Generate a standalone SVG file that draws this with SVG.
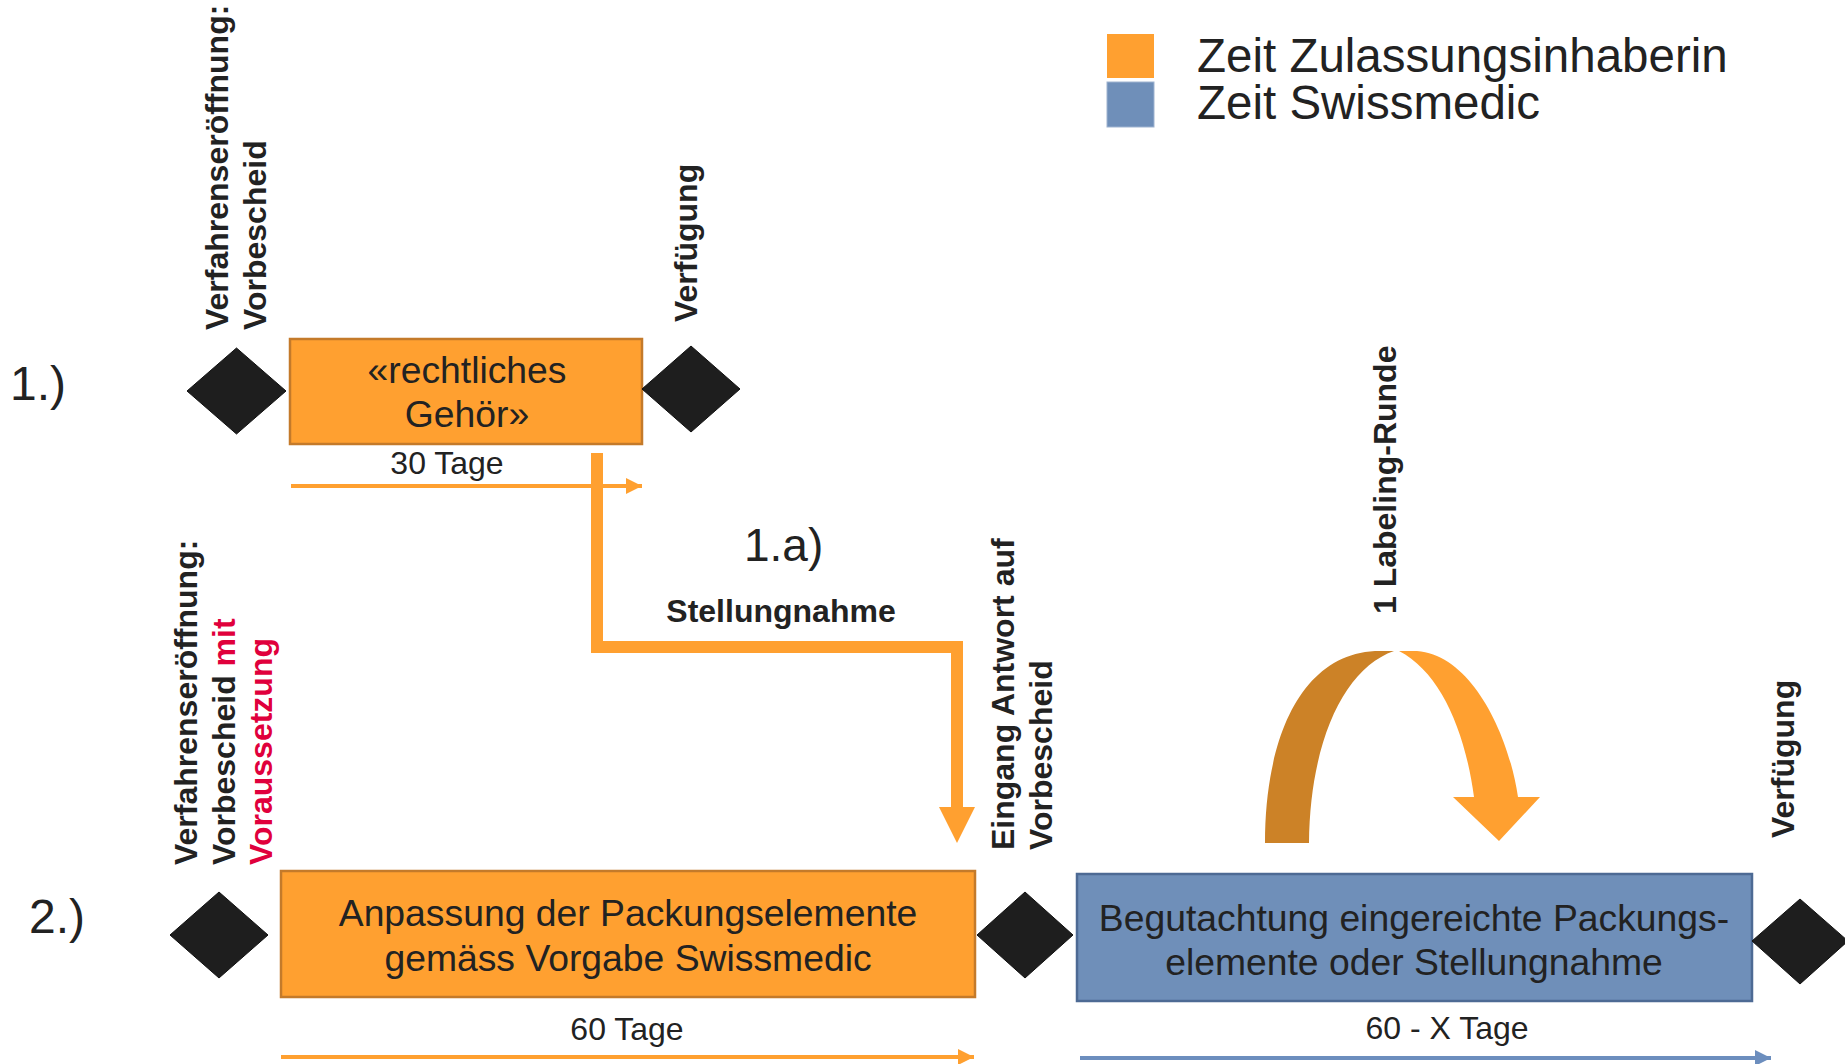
<svg xmlns="http://www.w3.org/2000/svg" width="1845" height="1064" viewBox="0 0 1845 1064">
<style>
text{font-family:"Liberation Sans",Arial,sans-serif;fill:#222}
.lbl{font-weight:bold;font-size:32px}
.box{font-size:37.3px;text-anchor:middle}
.num{font-size:48px}
.days{font-size:32px;text-anchor:middle}
.dia{fill:#1E1E1E;stroke:#111;stroke-width:1}
.red{fill:#E0003C}
</style>
<defs>
<marker id="ao" markerUnits="userSpaceOnUse" markerWidth="18" markerHeight="18" refX="16" refY="8" orient="auto"><path d="M0,0 L16,8 L0,16 Z" fill="#FFA030"/></marker>
<marker id="ab" markerUnits="userSpaceOnUse" markerWidth="18" markerHeight="18" refX="16" refY="8" orient="auto"><path d="M0,0 L16,8 L0,16 Z" fill="#6C8EBE"/></marker>
</defs>
<rect width="1845" height="1064" fill="#fff"/>

<g id="legend">
<rect x="1107" y="34" width="47" height="44" fill="#FFA030"/>
<rect x="1107" y="82" width="47" height="45" fill="#6F8FB9" stroke="#9FB3D0" stroke-width="1"/>
<text x="1197" y="72" font-size="47.5">Zeit Zulassungsinhaberin</text>
<text x="1197" y="119" font-size="47.5">Zeit Swissmedic</text>
</g>

<g id="row-labels">
<text class="num" x="10" y="400">1.)</text>
<text class="num" x="29" y="933">2.)</text>
<text x="744" y="561" font-size="46">1.a)</text>
</g>

<g id="connectors">
<line x1="291" y1="486" x2="642" y2="486" stroke="#FFA030" stroke-width="4" marker-end="url(#ao)"/>
<line x1="281" y1="1057" x2="974" y2="1057" stroke="#FFA030" stroke-width="4" marker-end="url(#ao)"/>
<line x1="1080" y1="1058" x2="1771" y2="1058" stroke="#6C8EBE" stroke-width="4" marker-end="url(#ab)"/>
<path d="M597,453 V647 H957 V808" fill="none" stroke="#FFA030" stroke-width="12"/>
<path d="M939,807 L975,807 L957,843 Z" fill="#FFA030"/>
<path d="M1265,843 C1265,740 1300,655 1375,651 L1394,651 C1345,668 1310,740 1309,843 Z" fill="#CC8227"/>
<path d="M1399,651 L1417,651 C1470,655 1508,730 1518,797 L1540,797 L1499,841 L1453,797 L1474,797 C1465,730 1440,672 1399,651 Z" fill="#FFA030"/>
</g>

<g id="n1-start">
<path class="dia" d="M236.5,348 L286,391 L236.5,434 L187,391 Z"/>
<text class="lbl" transform="translate(228,330) rotate(-90)">Verfahrenseröffnung:<tspan x="0" dy="38">Vorbescheid</tspan></text>
</g>

<g id="n1-box">
<rect x="290" y="339" width="352" height="105" fill="#FFA030" stroke="#C47A2A" stroke-width="2.5"/>
<text class="box" x="467" y="383">«rechtliches</text>
<text class="box" x="467" y="427">Gehör»</text>
<text class="days" x="447" y="474">30 Tage</text>
</g>

<g id="n1-end">
<path class="dia" d="M691,346 L740,389 L691,432 L642,389 Z"/>
<text class="lbl" transform="translate(697,322) rotate(-90)">Verfügung</text>
</g>

<g id="n1a">
<text class="lbl" x="781" y="622" text-anchor="middle">Stellungnahme</text>
</g>

<g id="n2-start">
<path class="dia" d="M219,892 L268,935 L219,978 L170,935 Z"/>
<text class="lbl" transform="translate(197,865) rotate(-90)">Verfahrenseröffnung:<tspan x="0" dy="37.5">Vorbescheid <tspan class="red">mit</tspan></tspan><tspan x="0" dy="37.5" class="red">Voraussetzung</tspan></text>
</g>

<g id="n2-box">
<rect x="281" y="871" width="694" height="126" fill="#FFA030" stroke="#C47A2A" stroke-width="2.5"/>
<text class="box" x="628" y="926">Anpassung der Packungselemente</text>
<text class="box" x="628" y="971">gemäss Vorgabe Swissmedic</text>
<text class="days" x="627" y="1040">60 Tage</text>
</g>

<g id="n2-mid">
<path class="dia" d="M1025,892 L1073,935 L1025,978 L977,935 Z"/>
<text class="lbl" transform="translate(1014,850) rotate(-90)">Eingang Antwort auf<tspan x="0" dy="38">Vorbescheid</tspan></text>
</g>

<g id="n2-box2">
<rect x="1077" y="874" width="675" height="127" fill="#6F8FB9" stroke="#4D6A94" stroke-width="2.5"/>
<text class="box" x="1414" y="931">Begutachtung eingereichte Packungs-</text>
<text class="box" x="1414" y="975">elemente oder Stellungnahme</text>
<text class="days" x="1447" y="1039">60 - X Tage</text>
<text class="lbl" transform="translate(1396,614) rotate(-90)">1 Labeling-Runde</text>
</g>

<g id="n2-end">
<path class="dia" d="M1800,899 L1848,941 L1800,984 L1752,941 Z"/>
<text class="lbl" transform="translate(1794,838) rotate(-90)">Verfügung</text>
</g>
</svg>
